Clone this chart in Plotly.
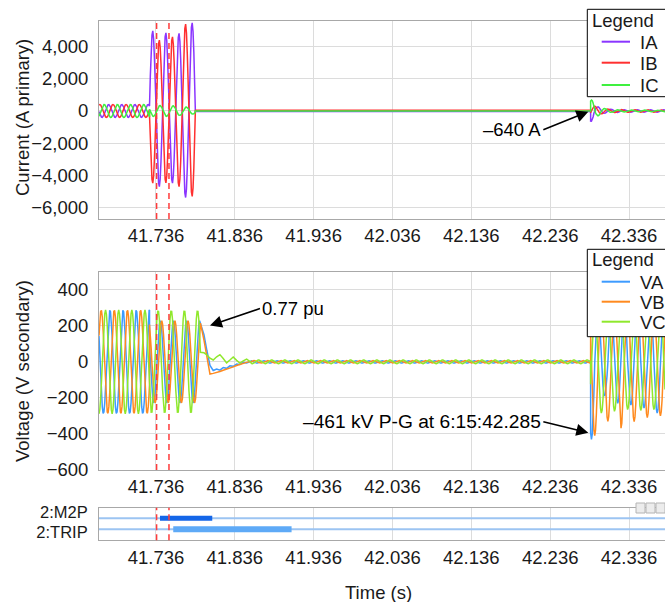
import numpy as np
import plotly.graph_objects as go

# ---------------- record timing (seconds) ----------------
T_START = 41.66374
T_END = 42.38164
SAMPLE_RATE = 960.0          # 16 samples per cycle
F_NOM = 60.0
T_FAULT = 41.7278            # fault inception
T_CLEAR_I = 41.7860          # breaker interrupts current
T_CLEAR_V = 41.7924          # line voltage collapses
T_RIPPLE = 41.8552           # end of CCVT transient
T_RECLOSE = 42.2873          # line re-energized
MARKER_T = [41.7368, 41.7525]
TICK_T = [41.736, 41.836, 41.936, 42.036, 42.136, 42.236, 42.336]

# ---------------- currents (A primary) ----------------
I_NAMES = ["IA", "IB", "IC"]
I_COLORS = ["#8a35ff", "#ff3030", "#3ff03f"]
I_PRE_PEAK = [400, 400, 400]
I_PRE_PHASE = [40, -80, 160]                     # degrees
I_FAULT_CREST = [41.7318, 41.7318, 41.7411]      # first crest of fault current
IA_FAULT_PEAKS = [4970, -4690, 4850, -4480, 4810, -5370, 5470]
IB_FAULT_PEAKS = [-4480, 4400, -4460, 4600, -4690, 5390, -5300]
IC_FAULT_PEAKS = [340, -330, 320, -280, 240, -200, 160]
I_OPEN_LEVEL = [-35, 40, 5]
I_RECLOSE_CREST = [42.2879, 42.2925, 42.2884]
IA_RECLOSE_PEAKS = [-640, 260, -150, 110, -90, 80, -80, 80, -75, 75, -75, 75, -70]
IB_RECLOSE_PEAKS = [300, -180, 120, -100, 90, -80, 80, -75, 75, -75, 70, -70, 70]
IC_RECLOSE_PEAKS = [680, -300, 150, -90, 70, -60, 60, -55, 55, -55, 50, -50, 50]

# ---------------- voltages (V secondary) ----------------
V_NAMES = ["VA", "VB", "VC"]
V_COLORS = ["#3d9bff", "#ff8a1f", "#8fe82c"]
V_PRE_PEAK = [288, 288, 288]
V_PRE_PHASE = [4, -116, 124]
V_FAULT_PEAK = [228, 228, 285]
V_FAULT_PHASE = [65, 25, 124]
TAIL_T = [41.7924, 41.7969, 41.8007, 41.8045, 41.8086, 41.8130, 41.8171, 41.8213,
          41.8256, 41.8298, 41.8340, 41.8383, 41.8425, 41.8467, 41.8510, 41.8552]
VA_TAIL = [215, 150, 60, -20, -48, -40, -46, -32, -36, -22, -25, -12, -15, -3, -6, 4]
VB_TAIL = [220, 120, 20, -68, -64, -60, -54, -47, -42, -34, -28, -20, -13, -8, -3, 2]
VC_TAIL = [53, 50, 38, 20, 10, 28, 40, 18, -6, 10, 27, 8, -7, 5, 15, 2]
V_OPEN_RIPPLE = [7, 7, 10]
V_OPEN_PHASE = [0, -120, 120]
V_RECLOSE_CREST = [42.2884, 42.2925, 42.3010]
VA_RECLOSE_PEAKS = [-430, 300, -190, 300, -230, 300, -240, 300, -257, 300, -285, 300]
VB_RECLOSE_PEAKS = [-410, 300, -330, 300, -368, 300, -331, 300, -310, 300, -300, 300]
VC_RECLOSE_PEAKS = [-285, 290, -275, 290, -265, 290, -270, 290, -265, 290]

# ---------------- relay digital elements ----------------
DIG_NAMES = ["2:M2P", "2:TRIP"]
DIG_LEVEL = [1, 0]
DIG_LABEL_POS = [1.52, -0.30]
DIG_ON = [41.7411, 41.7579]
DIG_OFF = [41.8074, 41.9080]
DIG_COLORS = ["#1466e8", "#5eaaf7"]
DIG_BASE_COLOR = "#9cc4f2"

GRID = "#dcdcdc"
AXIS = "#a8a8a8"
FONT = "Liberation Sans, Arial, Helvetica, sans-serif"
TXT = 18.5
MARGIN_L = 99
PLOT_W = 665 - MARGIN_L
FIG_H = 602


def px_x(x):
    return (x - MARGIN_L) / PLOT_W


def px_y(y):
    return 1 - y / FIG_H


def sample_times(t0, t1):
    n = int(np.floor((t1 - t0) * SAMPLE_RATE))
    t = t0 + np.arange(n + 1) / SAMPLE_RATE
    if t[-1] < t1 - 1e-9:
        t = np.append(t, t1)
    return t


def sinusoid(t, peak, phase_deg, t_ref=T_FAULT):
    return peak * np.cos(2 * np.pi * F_NOM * (t - t_ref) + np.radians(phase_deg))


def half_cycle_wave(t, crest_t, peaks):
    """Sinusoid whose crest in each half-cycle is taken from `peaks`."""
    u = (t - crest_t) * 2 * F_NOM
    k = np.clip(np.rint(u).astype(int), 0, len(peaks) - 1)
    amp = np.abs(np.asarray(peaks, float))[k]
    return np.sign(peaks[0]) * amp * np.cos(np.pi * u)


# ---------- build current records ----------
t_pre = sample_times(T_START, T_FAULT)
t_fault_i = sample_times(T_FAULT, T_CLEAR_I)
t_rec = sample_times(T_RECLOSE, T_END)
fault_i_peaks = [IA_FAULT_PEAKS, IB_FAULT_PEAKS, IC_FAULT_PEAKS]
rec_i_peaks = [IA_RECLOSE_PEAKS, IB_RECLOSE_PEAKS, IC_RECLOSE_PEAKS]

currents = []
for p in range(3):
    x = np.concatenate([t_pre, t_fault_i, [T_CLEAR_I, T_RECLOSE], t_rec])
    y = np.concatenate([
        sinusoid(t_pre, I_PRE_PEAK[p], I_PRE_PHASE[p]),
        half_cycle_wave(t_fault_i, I_FAULT_CREST[p], fault_i_peaks[p]),
        [I_OPEN_LEVEL[p], I_OPEN_LEVEL[p]],
        half_cycle_wave(t_rec, I_RECLOSE_CREST[p], rec_i_peaks[p]),
    ])
    currents.append((x, y))

# ---------- build voltage records ----------
t_fault_v = sample_times(T_FAULT, T_CLEAR_V)
t_open = sample_times(T_RIPPLE, T_RECLOSE)
tails = [VA_TAIL, VB_TAIL, VC_TAIL]
rec_v_peaks = [VA_RECLOSE_PEAKS, VB_RECLOSE_PEAKS, VC_RECLOSE_PEAKS]

voltages = []
for p in range(3):
    x = np.concatenate([t_pre, t_fault_v, TAIL_T[1:], t_open[1:], t_rec])
    y = np.concatenate([
        sinusoid(t_pre, V_PRE_PEAK[p], V_PRE_PHASE[p]),
        sinusoid(t_fault_v, V_FAULT_PEAK[p], V_FAULT_PHASE[p]),
        tails[p][1:],
        sinusoid(t_open[1:], V_OPEN_RIPPLE[p], V_OPEN_PHASE[p], T_RIPPLE),
        half_cycle_wave(t_rec, V_RECLOSE_CREST[p], rec_v_peaks[p]),
    ])
    voltages.append((x, y))

fig = go.Figure()

for p in range(3):
    x, y = currents[p]
    fig.add_trace(go.Scatter(x=x, y=y, mode="lines", name=I_NAMES[p],
                             line=dict(color=I_COLORS[p], width=1.5),
                             xaxis="x", yaxis="y", showlegend=False))
for p in range(3):
    x, y = voltages[p]
    fig.add_trace(go.Scatter(x=x, y=y, mode="lines", name=V_NAMES[p],
                             line=dict(color=V_COLORS[p], width=1.5),
                             xaxis="x2", yaxis="y2", showlegend=False))

# digital channels: baseline plus asserted interval
for name, lvl in zip(DIG_NAMES, DIG_LEVEL):
    fig.add_trace(go.Scatter(x=[T_START, T_END], y=[lvl, lvl], mode="lines",
                             line=dict(color=DIG_BASE_COLOR, width=2),
                             showlegend=False, hoverinfo="skip",
                             xaxis="x3", yaxis="y3"))
for name, lvl, on, off, col, w in zip(DIG_NAMES, DIG_LEVEL, DIG_ON, DIG_OFF,
                                       DIG_COLORS, [5, 6]):
    fig.add_trace(go.Scatter(x=[on, off], y=[lvl, lvl], mode="lines", name=name,
                             line=dict(color=col, width=w),
                             showlegend=False, xaxis="x3", yaxis="y3"))

# event markers
shapes = []
for xr, yr in [("x", "y domain"), ("x2", "y2 domain"), ("x3", "y3 domain")]:
    for tm in MARKER_T:
        shapes.append(dict(type="line", xref=xr, yref=yr, x0=tm, x1=tm, y0=0, y1=1,
                           line=dict(color="#ff3b3b", width=1.5, dash="6px,4px")))

# small toolbar buttons on the digital strip
for x0 in [636, 646, 656]:
    shapes.append(dict(type="rect", xref="paper", yref="paper",
                       x0=px_x(x0), x1=px_x(x0 + 9), y0=px_y(513), y1=px_y(503),
                       line=dict(color="#b4b4b4", width=1), fillcolor="#ececec"))

annotations = []


def legend_box(top, bottom, title_y, rows, names, colors):
    """Boxed legend with a title and one line sample per channel."""
    shapes.append(dict(type="rect", xref="paper", yref="paper", layer="above",
                       x0=px_x(587.3), x1=px_x(700), y0=px_y(bottom), y1=px_y(top),
                       line=dict(color="black", width=1), fillcolor="white"))
    annotations.append(dict(text="Legend", x=px_x(590), y=px_y(title_y),
                            xref="paper", yref="paper", xanchor="left",
                            yanchor="middle", showarrow=False,
                            font=dict(size=TXT)))
    for ry, nm, col in zip(rows, names, colors):
        shapes.append(dict(type="line", xref="paper", yref="paper", layer="above",
                           x0=px_x(601.7), x1=px_x(630), y0=px_y(ry), y1=px_y(ry),
                           line=dict(color=col, width=2)))
        annotations.append(dict(text=nm, x=px_x(638), y=px_y(ry + 0.5),
                                xref="paper", yref="paper", xanchor="left",
                                yanchor="middle", showarrow=False,
                                font=dict(size=TXT)))


legend_box(9.3, 96.7, 20.5, [41.7, 62.7, 85.0], I_NAMES, I_COLORS)
legend_box(249.3, 336.7, 259.5, [281.7, 301.7, 321.7], V_NAMES, V_COLORS)

x_common = dict(range=[T_START, T_END], tickvals=TICK_T, tickformat=".3f",
                showgrid=True, gridcolor=GRID, gridwidth=1, zeroline=False,
                showline=True, linecolor=AXIS, linewidth=1, mirror=True,
                ticks="", tickfont=dict(size=TXT, color="#1a1a1a"))
y_common = dict(showgrid=True, gridcolor=GRID, gridwidth=1, zeroline=False,
                showline=True, linecolor=AXIS, linewidth=1, ticks="",
                tickfont=dict(size=TXT, color="#1a1a1a"), ticklabelstandoff=6)

fig.update_layout(
    width=665, height=FIG_H,
    margin=dict(l=MARGIN_L, r=0, t=0, b=0, autoexpand=False),
    paper_bgcolor="white", plot_bgcolor="white",
    font=dict(family=FONT, size=TXT, color="#1a1a1a"),
    showlegend=False,
    xaxis=dict(domain=[0, 1], anchor="y", **x_common),
    yaxis=dict(domain=[px_y(219), px_y(20.7)], anchor="x",
               range=[-6690, 5590], tickvals=[-6000, -4000, -2000, 0, 2000, 4000],
               tickformat=",d", **y_common),
    xaxis2=dict(domain=[0, 1], anchor="y2", **x_common),
    yaxis2=dict(domain=[px_y(470), px_y(271.7)], anchor="x2",
                range=[-600, 500], tickvals=[-600, -400, -200, 0, 200, 400], **y_common),
    xaxis3=dict(domain=[0, 1], anchor="y3", **x_common),
    yaxis3=dict(domain=[px_y(540.3), px_y(507.7)], anchor="x3",
                range=[-1.0, 1.96], tickvals=DIG_LABEL_POS, ticktext=DIG_NAMES,
                showgrid=False, zeroline=False, showline=True, linecolor=AXIS,
                ticks="", tickfont=dict(size=16.5, color="#1a1a1a"), ticklabelstandoff=7),
)

ann_font = dict(size=TXT, color="black")
arrow = dict(showarrow=True, arrowhead=2, arrowsize=1.5, arrowwidth=1.6,
             arrowcolor="black", axref="pixel", ayref="pixel")
annotations += [
    dict(text="0.77 pu", x=41.8045, y=201, xref="x2", yref="y2",
         ax=50, ay=-17, xanchor="left", font=ann_font, **arrow),
    dict(text="\u2013640 A", x=42.2844, y=-43, xref="x", yref="y",
         ax=-45, ay=18, xanchor="right", font=ann_font, **arrow),
    dict(text="\u2013461 kV P-G at 6:15:42.285", x=42.2844, y=-393, xref="x2", yref="y2",
         ax=-45, ay=-11, xanchor="right", font=dict(size=19.2, color="black"), **arrow),
    dict(text="Current (A primary)", textangle=-90, x=px_x(22), y=px_y(118),
         xref="paper", yref="paper", xanchor="center", yanchor="middle",
         showarrow=False, font=dict(size=TXT)),
    dict(text="Voltage (V secondary)", textangle=-90, x=px_x(22), y=px_y(371),
         xref="paper", yref="paper", xanchor="center", yanchor="middle",
         showarrow=False, font=dict(size=TXT)),
    dict(text="Time (s)", x=px_x(378), y=px_y(592), xref="paper", yref="paper",
         xanchor="center", yanchor="middle", showarrow=False, font=dict(size=TXT)),
]
fig.update_layout(annotations=annotations, shapes=shapes)

fig.write_html("out.html")
